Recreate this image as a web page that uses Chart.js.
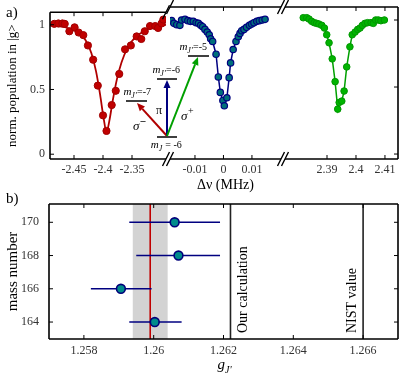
<!DOCTYPE html>
<html>
<head>
<meta charset="utf-8">
<script src="https://cdn.jsdelivr.net/npm/chart.js@4.4.0/dist/chart.umd.min.js"></script>
<style>
  html, body { margin: 0; padding: 0; background: #fff; }
  #wrap { position: relative; width: 415px; height: 382px; }
  #wrap canvas { position: absolute; left: 0; top: 0; }
</style>
</head>
<body>
<div id="wrap">
  <canvas id="segRed" width="415" height="382"></canvas>
  <canvas id="segBlue" width="415" height="382"></canvas>
  <canvas id="segGreen" width="415" height="382"></canvas>
  <canvas id="gChart" width="415" height="382"></canvas>
</div>
<script>
// ---- panel a: sigma-, pi, sigma+ resonances ----
const redX = [-2.484, -2.477, -2.470, -2.466, -2.458, -2.449, -2.442, -2.434, -2.426, -2.417, -2.409, -2.400, -2.394,
  -2.385, -2.378, -2.372, -2.362, -2.352, -2.342, -2.334, -2.328, -2.319, -2.310, -2.305, -2.299, -2.296];
const redY = [1.007, 1.01, 1.01, 1.007, 0.95, 0.98, 0.94, 0.92, 0.84, 0.73, 0.53, 0.30, 0.18,
  0.38, 0.49, 0.62, 0.81, 0.84, 0.91, 0.89, 0.95, 0.99, 0.99, 0.975, 1.01, 1.04];
const redFitX = [-2.4914, -2.47, -2.455, -2.44, -2.43, -2.42, -2.412, -2.405, -2.399, -2.394, -2.389, -2.383,
  -2.376, -2.368, -2.358, -2.345, -2.33, -2.315, -2.2914];
const redFitY = [0.995, 0.985, 0.965, 0.93, 0.88, 0.78, 0.64, 0.46, 0.28, 0.17, 0.26, 0.42,
  0.58, 0.71, 0.82, 0.90, 0.95, 0.98, 1.0];

const blueX = [-0.0182, -0.0174, -0.0164, -0.0153, -0.0147, -0.0135, -0.0125, -0.0116, -0.0106, -0.0096, -0.0088,
  -0.0080, -0.0073, -0.0065, -0.0057, -0.0050, -0.0045, -0.0038, -0.0026, -0.0018, -0.0011, -0.0002, 0.0003,
  0.0012, 0.0020, 0.0025, 0.0034, 0.0044, 0.0052, 0.0058, 0.0064, 0.0072, 0.0081, 0.0091, 0.0099, 0.0107,
  0.0117, 0.0126, 0.0136, 0.0146];
const blueY = [0.995, 0.975, 0.965, 0.96, 1.0, 1.005, 0.995, 0.99, 0.99, 0.98, 0.975,
  0.96, 0.95, 0.93, 0.91, 0.89, 0.86, 0.84, 0.745, 0.575, 0.46, 0.40, 0.36,
  0.42, 0.57, 0.68, 0.78, 0.84, 0.875, 0.90, 0.92, 0.93, 0.945, 0.96, 0.97, 0.98,
  0.99, 0.995, 1.0, 1.005];

const greenX = [2.3818, 2.3830, 2.3838, 2.3847, 2.3856, 2.3864, 2.3872, 2.3882, 2.3891, 2.3899, 2.3907, 2.3918,
  2.3928, 2.3937, 2.3942, 2.3951, 2.3959, 2.3968, 2.3979, 2.3987, 2.3997, 2.4006, 2.4014, 2.4022, 2.4031,
  2.4040, 2.4052, 2.4060, 2.4068, 2.4077, 2.4086, 2.4098];
const greenY = [1.017, 1.017, 1.007, 0.99, 0.98, 0.975, 0.97, 0.96, 0.94, 0.89, 0.83, 0.71,
  0.54, 0.335, 0.385, 0.395, 0.47, 0.65, 0.80, 0.89, 0.91, 0.93, 0.94, 0.96, 0.975,
  0.98, 0.98, 0.975, 1.0, 1.0, 0.995, 1.0];

const ticksRed = [-2.45, -2.4, -2.35];
const ticksBlue = [-0.01, 0, 0.01];
const ticksGreen = [2.39, 2.4, 2.41];
const popTicks = [0, 0.5, 1];

// ---- panel b: g-factor per isotope ----
const massNumbers = [170, 168, 166, 164];
const gValues = [1.2606, 1.26071, 1.25906, 1.26003];
const gLow = [1.2593, 1.2595, 1.2582, 1.2593];
const gHigh = [1.2619, 1.2619, 1.25994, 1.2608];
const gMean = 1.2599, gMeanLow = 1.2594, gMeanHigh = 1.2604;
const gCalc = 1.2622, gNist = 1.2660;
const gTicks = [1.258, 1.26, 1.262, 1.264, 1.266];
const massTicks = [164, 166, 168, 170];

const FONT = '"Liberation Serif", "DejaVu Serif", serif';
const pts = (xs, ys) => xs.map((x, i) => ({ x: x, y: ys[i] }));

// box, inward ticks and break marks
function framePlugin(f) {
  return {
    id: 'frame',
    afterDraw(chart) {
      const { ctx, chartArea: a, scales: { x, y } } = chart;
      ctx.save();
      ctx.strokeStyle = '#000';
      ctx.lineWidth = 1.6;
      ctx.beginPath();
      ctx.moveTo(a.left, a.top); ctx.lineTo(a.right, a.top);
      ctx.moveTo(a.left, a.bottom); ctx.lineTo(a.right, a.bottom);
      if (f.left) { ctx.moveTo(a.left, a.top); ctx.lineTo(a.left, a.bottom); }
      if (f.right) { ctx.moveTo(a.right, a.top); ctx.lineTo(a.right, a.bottom); }
      ctx.stroke();

      ctx.lineWidth = 1;
      ctx.beginPath();
      f.xTicks.forEach(v => {
        const px = x.getPixelForValue(v);
        ctx.moveTo(px, a.bottom); ctx.lineTo(px, a.bottom - 4);
        ctx.moveTo(px, a.top); ctx.lineTo(px, a.top + 4);
      });
      f.yTicks.forEach(v => {
        const py = y.getPixelForValue(v);
        if (f.left) { ctx.moveTo(a.left, py); ctx.lineTo(a.left + 4, py); }
        if (f.right) { ctx.moveTo(a.right, py); ctx.lineTo(a.right - 4, py); }
      });
      ctx.stroke();

      // "//" break marks
      ctx.lineWidth = 1.4;
      ctx.beginPath();
      const slash = (cx, cy) => { ctx.moveTo(cx - 3.5, cy + 7); ctx.lineTo(cx + 3.5, cy - 7); };
      if (!f.left) { slash(a.left, a.top); slash(a.left, a.bottom); }
      if (!f.right) { slash(a.right, a.top); slash(a.right, a.bottom); }
      ctx.stroke();
      ctx.restore();
    }
  };
}

function levelLabel(ctx, cx, base, sub, rest) {
  ctx.font = 'italic 11px ' + FONT;
  const wm = ctx.measureText('m').width;
  ctx.font = 'italic 8px ' + FONT;
  const ws = ctx.measureText(sub).width;
  ctx.font = '10px ' + FONT;
  const wr = ctx.measureText(rest).width;
  let x = cx - (wm + ws + wr) / 2;
  ctx.textAlign = 'left';
  ctx.textBaseline = 'alphabetic';
  ctx.font = 'italic 11px ' + FONT; ctx.fillText('m', x, base);
  ctx.font = 'italic 8px ' + FONT; ctx.fillText(sub, x + wm, base + 3);
  ctx.font = '10px ' + FONT; ctx.fillText(rest, x + wm + ws + 0.5, base);
}

function arrow(ctx, x0, y0, x1, y1, color) {
  const ang = Math.atan2(y1 - y0, x1 - x0), L = 8, W = 3.5;
  const bx = x1 - L * Math.cos(ang), by = y1 - L * Math.sin(ang);
  ctx.strokeStyle = color; ctx.fillStyle = color; ctx.lineWidth = 2;
  ctx.beginPath(); ctx.moveTo(x0, y0); ctx.lineTo(bx, by); ctx.stroke();
  ctx.beginPath();
  ctx.moveTo(x1, y1);
  ctx.lineTo(bx + W * Math.sin(ang), by - W * Math.cos(ang));
  ctx.lineTo(bx - W * Math.sin(ang), by + W * Math.cos(ang));
  ctx.closePath(); ctx.fill();
}

// level scheme inset + panel letter
const insetPlugin = {
  id: 'inset',
  afterDraw(chart) {
    const ctx = chart.ctx;
    ctx.save();
    ctx.strokeStyle = '#000'; ctx.lineWidth = 1.6;
    ctx.beginPath();
    ctx.moveTo(157, 137); ctx.lineTo(177, 137);
    ctx.moveTo(157, 79); ctx.lineTo(177, 79);
    ctx.moveTo(126, 101); ctx.lineTo(147, 101);
    ctx.moveTo(188, 56); ctx.lineTo(209, 56);
    ctx.stroke();
    arrow(ctx, 167, 136, 137, 103, '#b00000');
    arrow(ctx, 167, 136, 167, 80, '#000080');
    arrow(ctx, 167, 136, 198, 57, '#00a000');
    ctx.fillStyle = '#000';
    levelLabel(ctx, 166, 148, 'J', ' = -6');
    levelLabel(ctx, 166, 73, "J'", '=-6');
    levelLabel(ctx, 137, 95, "J'", '=-7');
    levelLabel(ctx, 193, 50, "J'", '=-5');
    ctx.textAlign = 'left'; ctx.textBaseline = 'alphabetic';
    ctx.font = '12px ' + FONT;
    ctx.fillText('\u03c0', 156, 114);
    ctx.font = 'italic 13px ' + FONT;
    ctx.fillText('\u03c3', 133, 130);
    ctx.fillText('\u03c3', 181, 120);
    ctx.font = 'bold 10px ' + FONT;
    ctx.fillText('\u2013', 140.5, 124);
    ctx.font = '10px ' + FONT;
    ctx.fillText('+', 188, 114);
    ctx.font = '15px ' + FONT;
    ctx.fillText('a)', 6, 17);
    ctx.restore();
  }
};

const popMin = -0.037, popMax = 1.097;

function makeSegment(id, c) {
  return new Chart(document.getElementById(id), {
    type: 'scatter',
    data: { datasets: c.datasets },
    options: {
      responsive: false,
      animation: false,
      events: [],
      layout: { padding: c.padding },
      plugins: { legend: { display: false }, tooltip: { enabled: false } },
      scales: {
        x: {
          type: 'linear', min: c.xMin, max: c.xMax,
          afterBuildTicks: s => { s.ticks = c.xTicks.map(v => ({ value: v })); },
          afterFit: s => { s.height = 35; },
          grid: { display: false, drawTicks: false },
          border: { display: false },
          ticks: { font: { family: FONT, size: 12 }, color: '#333', padding: 4, maxRotation: 0, autoSkip: false,
            callback: v => String(v) },
          title: c.xTitle
            ? { display: true, text: c.xTitle, color: '#000', font: { family: FONT, size: 14 }, padding: 0 }
            : { display: false }
        },
        y: {
          display: c.showY,
          min: popMin, max: popMax,
          afterBuildTicks: s => { s.ticks = popTicks.map(v => ({ value: v })); },
          afterFit: s => { s.width = c.showY ? 50 : 0; },
          grid: { display: false, drawTicks: false },
          border: { display: false },
          ticks: { font: { family: FONT, size: 12 }, color: '#333', padding: 5, callback: v => String(v) },
          title: { display: true, text: 'norm. population in |g>', color: '#000',
            font: { family: FONT, size: 13 }, padding: { top: 5, bottom: 0 } }
        }
      }
    },
    plugins: c.plugins
  });
}

makeSegment('segRed', {
  padding: { left: 0, right: 249, top: 7, bottom: 188 },
  xMin: -2.4914, xMax: -2.2914, xTicks: ticksRed, showY: true,
  datasets: [
    { type: 'line', data: pts(redX, redY), showLine: false, pointRadius: 3.6,
      pointBackgroundColor: '#c00000', pointBorderColor: '#a00000', pointBorderWidth: 1 },
    { type: 'line', data: pts(redFitX, redFitY), borderColor: '#b00000', borderWidth: 1.8,
      pointRadius: 0, tension: 0.4, cubicInterpolationMode: 'monotone' }
  ],
  plugins: [framePlugin({ left: true, right: false, xTicks: ticksRed, yTicks: popTicks }), insetPlugin]
});

makeSegment('segBlue', {
  padding: { left: 170, right: 134, top: 7, bottom: 188 },
  xMin: -0.01877, xMax: 0.0202, xTicks: ticksBlue, showY: false, xTitle: '\u0394\u03bd (MHz)',
  datasets: [
    { type: 'line', data: pts(blueX, blueY), borderColor: '#000080', borderWidth: 1.5, tension: 0,
      pointRadius: 3.2, pointBackgroundColor: '#006f7a', pointBorderColor: '#000080', pointBorderWidth: 1.2 }
  ],
  plugins: [framePlugin({ left: false, right: false, xTicks: ticksBlue, yTicks: popTicks })]
});

makeSegment('segGreen', {
  padding: { left: 285, right: 17, top: 7, bottom: 188 },
  xMin: 2.3755, xMax: 2.4145, xTicks: ticksGreen, showY: false,
  datasets: [
    { type: 'line', data: pts(greenX, greenY), borderColor: '#00a000', borderWidth: 1.5, tension: 0,
      pointRadius: 3.3, pointBackgroundColor: '#00b400', pointBorderColor: '#009600', pointBorderWidth: 1 }
  ],
  plugins: [framePlugin({ left: false, right: true, xTicks: ticksGreen, yTicks: popTicks })]
});

// reference values behind the data
const refPlugin = {
  id: 'refs',
  beforeDatasetsDraw(chart) {
    const { ctx, chartArea: a, scales: { x } } = chart;
    ctx.save();
    ctx.fillStyle = '#d3d3d3';
    const l = x.getPixelForValue(gMeanLow), r = x.getPixelForValue(gMeanHigh);
    ctx.fillRect(l, a.top, r - l, a.bottom - a.top);
    ctx.lineWidth = 1.6;
    ctx.strokeStyle = '#c00000';
    ctx.beginPath();
    ctx.moveTo(x.getPixelForValue(gMean), a.top); ctx.lineTo(x.getPixelForValue(gMean), a.bottom);
    ctx.stroke();
    ctx.strokeStyle = '#222';
    ctx.beginPath();
    [gCalc, gNist].forEach(v => {
      const px = x.getPixelForValue(v);
      ctx.moveTo(px, a.top); ctx.lineTo(px, a.bottom);
    });
    ctx.stroke();

    ctx.fillStyle = '#000';
    ctx.font = '14px ' + FONT;
    ctx.textBaseline = 'middle';
    ctx.textAlign = 'left';
    ctx.translate(x.getPixelForValue(gCalc) + 13, a.bottom - 6);
    ctx.rotate(-Math.PI / 2);
    ctx.fillText('Our calculation', 0, 0);
    ctx.restore();

    ctx.save();
    ctx.fillStyle = '#000';
    ctx.font = '14px ' + FONT;
    ctx.textBaseline = 'middle';
    ctx.textAlign = 'left';
    ctx.translate(x.getPixelForValue(gNist) - 11, a.bottom - 6);
    ctx.rotate(-Math.PI / 2);
    ctx.fillText('NIST value', 0, 0);
    ctx.restore();
  },
  afterDraw(chart) {
    const { ctx, chartArea: a } = chart;
    ctx.save();
    ctx.fillStyle = '#000';
    ctx.textBaseline = 'alphabetic';
    ctx.textAlign = 'left';
    ctx.font = '15px ' + FONT;
    ctx.fillText('b)', 6, 203);
    // g_J' axis title
    const cx = (a.left + a.right) / 2 + 1;
    ctx.font = 'italic 15px ' + FONT;
    const wg = ctx.measureText('g').width;
    ctx.font = 'italic 10px ' + FONT;
    const ws = ctx.measureText("J'").width;
    const x0 = cx - (wg + ws) / 2;
    ctx.font = 'italic 15px ' + FONT;
    ctx.fillText('g', x0, 369);
    ctx.font = 'italic 10px ' + FONT;
    ctx.fillText("J'", x0 + wg, 373);
    ctx.restore();
  }
};

new Chart(document.getElementById('gChart'), {
  type: 'scatter',
  data: {
    datasets: [
      { data: massNumbers.map((m, i) => ({ x: gValues[i], y: m })), pointRadius: 4.4,
        pointBackgroundColor: '#008b8b', pointBorderColor: '#00007a', pointBorderWidth: 1.6 }
    ].concat(massNumbers.map((m, i) => ({
      type: 'line', data: [{ x: gLow[i], y: m }, { x: gHigh[i], y: m }],
      borderColor: '#000080', borderWidth: 1.6, pointRadius: 0
    })))
  },
  options: {
    responsive: false,
    animation: false,
    events: [],
    layout: { padding: { left: 0, right: 17, top: 204, bottom: 3 } },
    plugins: { legend: { display: false }, tooltip: { enabled: false } },
    scales: {
      x: {
        type: 'linear', min: 1.257, max: 1.267,
        afterBuildTicks: s => { s.ticks = gTicks.map(v => ({ value: v })); },
        afterFit: s => { s.height = 40; },
        grid: { display: false, drawTicks: false },
        border: { display: false },
        ticks: { font: { family: FONT, size: 12 }, color: '#333', padding: 5, maxRotation: 0, autoSkip: false,
          callback: v => String(v) }
      },
      y: {
        min: 162.98, max: 171.1,
        afterBuildTicks: s => { s.ticks = massTicks.map(v => ({ value: v })); },
        afterFit: s => { s.width = 49; },
        grid: { display: false, drawTicks: false },
        border: { display: false },
        ticks: { font: { family: FONT, size: 12 }, color: '#333', padding: 10, callback: v => String(v) },
        title: { display: true, text: 'mass number', color: '#000',
          font: { family: FONT, size: 15 }, padding: { top: 4, bottom: 0 } }
      }
    }
  },
  plugins: [refPlugin, framePlugin({ left: true, right: true, xTicks: gTicks, yTicks: massTicks })]
});
</script>
</body>
</html>
